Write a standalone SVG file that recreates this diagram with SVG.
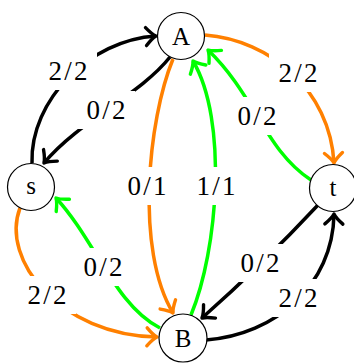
<svg xmlns="http://www.w3.org/2000/svg" width="354" height="363" viewBox="0 0 354 363">
<style>
.e{fill:none;stroke-width:3.5}
.k{stroke:#000;marker-end:url(#mk)}
.o{stroke:#ff8000;marker-end:url(#mo)}
.g{stroke:#00ff00;marker-end:url(#mg)}
.lb rect{fill:#fff}
text{font-family:"Liberation Serif","Times New Roman",serif;font-size:25px;text-anchor:middle;fill:#000}
.lb text{font-size:27px}
.n circle{fill:#fff;stroke:#000;stroke-width:1.2}
</style>
<defs>
<marker id="mk" markerUnits="userSpaceOnUse" orient="auto" refX="0" refY="0" markerWidth="30" markerHeight="30" overflow="visible"><path d="M-10,-9 Q-4,-2 0,0 Q-4,2 -10,9" fill="none" stroke="#000" stroke-width="3.4" stroke-linecap="round" stroke-linejoin="round"/></marker>
<marker id="mo" markerUnits="userSpaceOnUse" orient="auto" refX="0" refY="0" markerWidth="30" markerHeight="30" overflow="visible"><path d="M-10,-9 Q-4,-2 0,0 Q-4,2 -10,9" fill="none" stroke="#ff8000" stroke-width="3.4" stroke-linecap="round" stroke-linejoin="round"/></marker>
<marker id="mg" markerUnits="userSpaceOnUse" orient="auto" refX="0" refY="0" markerWidth="30" markerHeight="30" overflow="visible"><path d="M-10,-9 Q-4,-2 0,0 Q-4,2 -10,9" fill="none" stroke="#00ff00" stroke-width="3.4" stroke-linecap="round" stroke-linejoin="round"/></marker>
</defs>
<g id="connectors">
<path class="e k" d="M32,163 C30,100 90,40 156,36"/>
<path class="e k" d="M170,57 C140,95 80,120 44,163"/>
<path class="e o" d="M205,35 C270,40 330,90 334,163"/>
<path class="e g" d="M311,180 C265,150 255,95 208,50"/>
<path class="e o" d="M173,59 C148,120 135,250 173,313"/>
<path class="e g" d="M191,315 C218,250 228,120 193,61"/>
<path class="e k" d="M318,205 Q262,265 202,318"/>
<path class="e k" d="M206,340 C275,335 333,285 334,214"/>
<path class="e g" d="M160,328 C115,305 95,240 56,198"/>
<path class="e o" d="M20,208 C0,260 60,335 157,337"/>
</g>
<g id="labels" class="lb">
<g id="l-sA"><rect x="39" y="52" width="58" height="38"/><text x="68" y="80" textLength="39" lengthAdjust="spacing">2/2</text></g>
<g id="l-As"><rect x="77" y="91" width="58" height="38"/><text x="106" y="119" textLength="39" lengthAdjust="spacing">0/2</text></g>
<g id="l-At"><rect x="269" y="54" width="58" height="38"/><text x="298" y="82" textLength="39" lengthAdjust="spacing">2/2</text></g>
<g id="l-tA"><rect x="228" y="97" width="58" height="38"/><text x="257" y="125" textLength="39" lengthAdjust="spacing">0/2</text></g>
<g id="l-AB"><rect x="118" y="167" width="58" height="38"/><text x="147" y="195" textLength="39" lengthAdjust="spacing">0/1</text></g>
<g id="l-BA"><rect x="187" y="167" width="58" height="38"/><text x="216" y="195" textLength="39" lengthAdjust="spacing">1/1</text></g>
<g id="l-tB"><rect x="231" y="244" width="58" height="38"/><text x="260" y="272" textLength="39" lengthAdjust="spacing">0/2</text></g>
<g id="l-Bt"><rect x="269" y="279" width="58" height="38"/><text x="298" y="307" textLength="39" lengthAdjust="spacing">2/2</text></g>
<g id="l-Bs"><rect x="74" y="248" width="58" height="38"/><text x="103" y="276" textLength="39" lengthAdjust="spacing">0/2</text></g>
<g id="l-sB"><rect x="18" y="276" width="58" height="38"/><text x="47" y="304" textLength="39" lengthAdjust="spacing">2/2</text></g>
</g>
<g id="A" class="n"><circle cx="181" cy="36" r="23.5"/><text x="181" y="45">A</text></g>
<g id="s" class="n"><circle cx="31" cy="187" r="23.5"/><text x="31" y="194">s</text></g>
<g id="t" class="n"><circle cx="333" cy="188" r="23.5"/><text x="333" y="196">t</text></g>
<g id="B" class="n"><circle cx="183" cy="338" r="24"/><text x="183" y="347">B</text></g>
</svg>
